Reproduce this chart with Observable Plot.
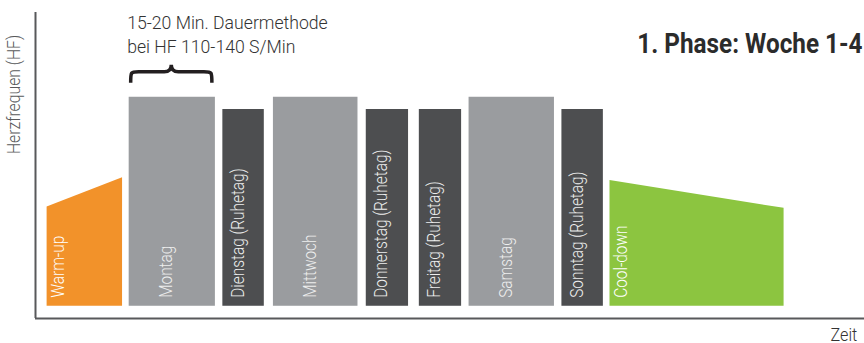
<!DOCTYPE html>
<html>
<head>
<meta charset="utf-8">
<script src="https://cdn.jsdelivr.net/npm/d3@7"></script>
<script src="https://cdn.jsdelivr.net/npm/@observablehq/plot@0.6"></script>
<style>
  html, body { margin: 0; padding: 0; background: #fff; }
  #chart svg { display: block; }
</style>
</head>
<body>
<div id="chart"></div>
<script>
// ---- data (arbitrary Zeit units on x, relative HF on y) ----
const days = ["Montag", "Dienstag (Ruhetag)", "Mittwoch", "Donnerstag (Ruhetag)", "Freitag (Ruhetag)", "Samstag", "Sonntag (Ruhetag)"];
const dayType = ["Training", "Ruhetag", "Training", "Ruhetag", "Ruhetag", "Training", "Ruhetag"];
const dayStart = [11.3, 22.6, 28.7, 39.9, 46.3, 52.3, 63.5];
const dayEnd   = [21.7, 27.6, 38.9, 45.0, 51.4, 62.6, 68.5];
const dayTop   = [72.3, 68.3, 72.3, 68.3, 68.3, 72.3, 68.3];
const baseHF = 4;

const warmLabel = "Warm-up";
const warmX   = [1.4, 10.5];
const warmTop = [36.4, 46.0];

const coolLabel = "Cool-down";
const coolX   = [69.3, 90.3];
const coolTop = [45.1, 36.0];

const title = "1. Phase: Woche 1-4";
const annotation = "15-20 Min. Dauermethode\nbei HF 110-140 S/Min";
const yLabel = "Herzfrequen (HF)";
const xLabel = "Zeit";

// ---- tables ----
const dayData = days.map((d, i) => ({name: d, type: dayType[i], x1: dayStart[i], x2: dayEnd[i], top: dayTop[i]}));
const warm = warmX.map((x, i) => ({x, top: warmTop[i]}));
const cool = coolX.map((x, i) => ({x, top: coolTop[i]}));

const FONT = "Roboto, 'Liberation Sans', sans-serif";
const C = {warm: "#f2922a", train: "#9a9c9f", rest: "#4d4e50", cool: "#8cc540", axis: "#58595b", text: "#333333", inner: "#eeeeee"};

function brace(index, scales) {
  const {x, y} = scales;
  const x1 = x(dayStart[0]) + 2, x2 = x(dayEnd[0]) - 3;
  const xc = (x1 + x2) / 2;
  const yb = y(dayTop[0]) - 14;
  const ym = yb - 11;
  const yt = ym - 7;
  const r = 8;
  const p = d3.path();
  p.moveTo(x1, yb);
  p.bezierCurveTo(x1, ym, x1, ym, x1 + r, ym);
  p.lineTo(xc - 7, ym);
  p.quadraticCurveTo(xc, ym, xc, yt);
  p.quadraticCurveTo(xc, ym, xc + 7, ym);
  p.lineTo(x2 - r, ym);
  p.bezierCurveTo(x2, ym, x2, ym, x2, yb);
  return d3.create("svg:path")
    .attr("d", p.toString())
    .attr("fill", "none")
    .attr("stroke", "#231f20")
    .attr("stroke-width", 3.5)
    .node();
}

const chart = Plot.plot({
  width: 864,
  height: 343,
  marginLeft: 35,
  marginRight: 0,
  marginTop: 12,
  marginBottom: 25,
  x: {domain: [0, 100], axis: null},
  y: {domain: [0, 100], axis: null},
  style: {fontFamily: FONT, background: "#fff", overflow: "visible"},
  marks: [
    Plot.areaY(warm, {x: "x", y1: baseHF, y2: "top", fill: C.warm}),
    Plot.areaY(cool, {x: "x", y1: baseHF, y2: "top", fill: C.cool}),
    Plot.rect(dayData.filter(d => d.type === "Training"), {x1: "x1", x2: "x2", y1: baseHF, y2: "top", fill: C.train}),
    Plot.rect(dayData.filter(d => d.type === "Ruhetag"), {x1: "x1", x2: "x2", y1: baseHF, y2: "top", fill: C.rest}),
    Plot.text(dayData, {x: d => (d.x1 + d.x2) / 2, y: baseHF, text: "name", rotate: -90, textAnchor: "start", lineAnchor: "middle", dy: -8.5, fill: C.inner, fontSize: 19, fontWeight: 300}),
    Plot.text([warmLabel], {x: warmX[0], y: baseHF, text: d => d, rotate: -90, textAnchor: "start", lineAnchor: "middle", dx: 17, dy: -8.5, fill: "#ffffff", fontSize: 19, fontWeight: 300}),
    Plot.text([coolLabel], {x: coolX[0], y: baseHF, text: d => d, rotate: -90, textAnchor: "start", lineAnchor: "middle", dx: 17, dy: -8.5, fill: "#ffffff", fontSize: 19, fontWeight: 300}),
    Plot.ruleX([0], {stroke: C.axis, strokeWidth: 2}),
    Plot.ruleY([0], {stroke: C.axis, strokeWidth: 2.2}),
    Plot.text([yLabel], {frameAnchor: "top-left", text: d => d, rotate: -90, textAnchor: "middle", lineAnchor: "middle", dx: -16, dy: 82, fill: C.axis, fontSize: 19, fontWeight: 300}),
    Plot.text([xLabel], {frameAnchor: "bottom-right", text: d => d, textAnchor: "start", lineAnchor: "bottom", dx: -34, dy: 22, fill: C.text, fontSize: 18, fontWeight: 300}),
    Plot.text([annotation], {x: dayStart[0], frameAnchor: "top", text: d => d, textAnchor: "start", lineAnchor: "bottom", lineHeight: 1.333, dx: -2, dy: 40, fill: C.text, fontSize: 18, fontWeight: 300}),
    brace,
    Plot.text([title], {frameAnchor: "top-right", text: d => d, textAnchor: "end", lineAnchor: "bottom", dx: -2, dy: 40, fill: "#2b2b2b", fontSize: 27, fontWeight: "bold"})
  ]
});

// condense the glyphs horizontally (along the text direction) to mimic a condensed face
function squeeze(el, s) {
  let t = el.getAttribute("transform") || "";
  const x = el.getAttribute("x"), y = el.getAttribute("y");
  if (x != null || y != null) {
    t = `translate(${+x || 0},${+y || 0}) ` + t;
    el.removeAttribute("x"); el.removeAttribute("y");
  }
  el.setAttribute("transform", `${t} scale(${s},1)`);
}
const inner = new Set([...days, warmLabel, coolLabel]);
d3.select(chart).selectAll("text").each(function () {
  const s = this.textContent;
  if (s === title) squeeze(this, 0.9);
  else if (inner.has(s)) squeeze(this, 0.81);
  else if (s === yLabel) squeeze(this, 0.83);
  else if (s === xLabel) squeeze(this, 0.9);
  else squeeze(this, 0.98);
});
document.getElementById("chart").appendChild(chart);
</script>
</body>
</html>
